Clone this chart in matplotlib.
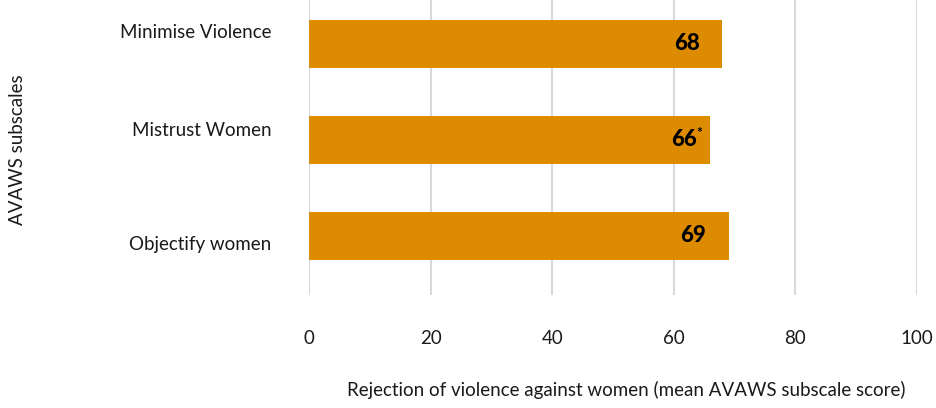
import matplotlib
matplotlib.use("Agg")
import matplotlib.pyplot as plt

categories = ["Minimise Violence", "Mistrust Women", "Objectify women"]
values = [68, 66, 69]
value_labels = ["68", "66", "69"]
label_marks = ["", "*", ""]
x_ticks = [0, 20, 40, 60, 80, 100]

plt.rcParams["font.family"] = ["Lato", "DejaVu Sans"]

bar_color = "#DD8B00"
grid_color = "#D9D9D9"

fig = plt.figure(figsize=(9.36, 4.08), dpi=100)
ax = fig.add_axes([309 / 936, 1 - 295 / 408, (917 - 309) / 936, 295 / 408])

pos = list(range(len(categories)))
ax.barh(pos, values, height=0.5, color=bar_color, zorder=3)

ax.set_xlim(0, 100)
ax.set_ylim(2.615, -0.458)
ax.set_xticks(x_ticks)
ax.set_xticklabels([str(t) for t in x_ticks])
ax.set_yticks(pos)
ax.set_yticklabels(categories)

ax.grid(axis="x", color=grid_color, linewidth=1.5, zorder=0)
ax.grid(axis="y", visible=False)
for s in ax.spines.values():
    s.set_visible(False)
ax.tick_params(axis="x", length=0, pad=25, labelsize=13.5, colors="#1a1a1a")
ax.tick_params(axis="y", length=0, pad=27, labelsize=13.5, colors="#1a1a1a")

# nudge the category labels slightly
for lbl, dy in zip(ax.get_yticklabels(), [13, 11, -7]):
    lbl.set_transform(lbl.get_transform() + matplotlib.transforms.ScaledTranslation(0, dy / 100, fig.dpi_scale_trans))

for p, v, lab, mark in zip(pos, values, value_labels, label_marks):
    off = -13 if mark else -23
    ax.annotate(lab, xy=(v, p), xytext=(off * 0.72, 0), textcoords="offset points",
                ha="right", va="center", fontsize=16, fontweight="black",
                color="black", zorder=4)
    if mark:
        ax.annotate(mark, xy=(v, p), xytext=((off + 5) * 0.72, 5), textcoords="offset points",
                    ha="right", va="center", fontsize=10, fontweight="bold",
                    color="black", zorder=4)

fig.text(626 / 936, 1 - 390 / 408, "Rejection of violence against women (mean AVAWS subscale score)",
         ha="center", va="center", fontsize=13.5, color="#1a1a1a")
fig.text(18 / 936, 1 - 150 / 408, "AVAWS subscales", rotation=90,
         ha="center", va="center", fontsize=13.5, color="#1a1a1a")

fig.savefig("out.png", dpi=100, facecolor="white")
